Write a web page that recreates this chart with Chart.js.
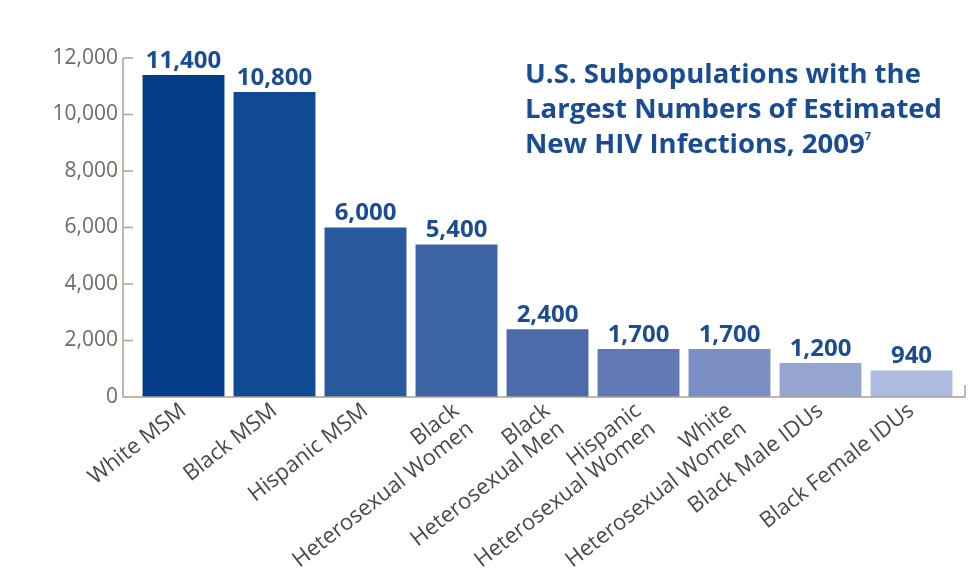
<!DOCTYPE html>
<html>
<head>
<meta charset="utf-8">
<script src="https://cdn.jsdelivr.net/npm/chart.js@4.4.1/dist/chart.umd.min.js"></script>
<style>
  html, body { margin: 0; padding: 0; background: #fff; }
  #wrap { position: relative; width: 974px; height: 577px; }
  #title {
    position: absolute; left: 525px; top: 55px;
    font-family: "Open Sans", "Noto Sans", sans-serif; font-weight: 700;
    font-size: 27.5px; line-height: 35px; color: #1a4c93; white-space: nowrap;
  }
  #title sup { font-size: 11px; vertical-align: 13px; line-height: 0; }
</style>
</head>
<body>
<div id="wrap">
  <canvas id="hivChart" width="974" height="577"></canvas>
  <div id="title">U.S. Subpopulations with the<br>Largest Numbers of Estimated<br>New HIV Infections, 2009<sup>7</sup></div>
</div>
<script>
// Chart data
const categories = [
    'White MSM',
    'Black MSM',
    'Hispanic MSM',
    ['Black', 'Heterosexual Women'],
    ['Black', 'Heterosexual Men'],
    ['Hispanic', 'Heterosexual Women'],
    ['White', 'Heterosexual Women'],
    'Black Male IDUs',
    'Black Female IDUs'
];
const newInfections = [11400, 10800, 6000, 5400, 2400, 1700, 1700, 1200, 940];
const yTicks = [0, 2000, 4000, 6000, 8000, 10000, 12000];

// dark navy fading to light periwinkle, left to right
const barColors = ['#053d8b', '#0f4a93', '#28589e', '#3b63a6', '#4d6aab', '#6179b5', '#7b8ec3', '#95a5d0', '#adbce0'];

const axisColor = '#aaa193';
const fmt = (v) => v.toLocaleString('en-US');

// Draws the offset axis lines, tick marks and the value labels over the bars
const axesAndLabels = {
    id: 'axesAndLabels',
    afterDatasetsDraw(chart) {
        const ctx = chart.ctx;
        const area = chart.chartArea;
        const y = chart.scales.y;
        const axisX = area.left - 15;

        ctx.save();
        ctx.strokeStyle = axisColor;
        ctx.lineWidth = 1.5;
        ctx.beginPath();
        ctx.moveTo(axisX, y.getPixelForValue(12000));
        ctx.lineTo(axisX, area.bottom);
        ctx.lineTo(area.right + 8, area.bottom);
        ctx.lineTo(area.right + 8, area.bottom - 12);
        yTicks.forEach((t) => {
            const py = y.getPixelForValue(t);
            ctx.moveTo(axisX, py);
            ctx.lineTo(axisX + 10, py);
        });
        ctx.stroke();

        // value labels
        ctx.fillStyle = '#1c4d92';
        ctx.font = 'bold 24px "Open Sans", "Noto Sans", sans-serif';
        ctx.textAlign = 'center';
        ctx.textBaseline = 'bottom';
        chart.getDatasetMeta(0).data.forEach((bar, i) => {
            ctx.fillText(fmt(newInfections[i]), bar.x, bar.y - 2);
        });
        ctx.restore();
    }
};

function initializeChart() {
    const ctx = document.getElementById('hivChart').getContext('2d');
    new Chart(ctx, {
        type: 'bar',
        data: {
            labels: categories,
            datasets: [{
                label: 'Estimated New HIV Infections, 2009',
                data: newInfections,
                backgroundColor: barColors,
                borderWidth: 0,
                barPercentage: 0.9,
                categoryPercentage: 1
            }]
        },
        options: {
            responsive: false,
            animation: false,
            layout: {
                padding: { top: 58, right: 17, left: 0, bottom: 0 }
            },
            scales: {
                x: {
                    grid: { display: false, drawTicks: false },
                    border: { display: false },
                    afterFit: (scale) => { scale.height = 180; },
                    ticks: {
                        autoSkip: false,
                        minRotation: 38,
                        maxRotation: 38,
                        padding: 2,
                        color: '#4a4a4a',
                        font: { family: '"Open Sans", "Noto Sans", sans-serif', size: 22, lineHeight: 1.05 }
                    }
                },
                y: {
                    min: 0,
                    max: 12000,
                    grid: { display: false, drawTicks: false },
                    border: { display: false },
                    afterFit: (scale) => { scale.width = 138; },
                    afterBuildTicks: (scale) => {
                        scale.ticks = yTicks.map((v) => ({ value: v }));
                    },
                    ticks: {
                        padding: 20,
                        color: '#6b6b6b',
                        font: { family: '"Open Sans", "Noto Sans", sans-serif', size: 21 },
                        callback: (value) => fmt(value)
                    }
                }
            },
            plugins: {
                legend: { display: false },
                tooltip: { enabled: false }
            }
        },
        plugins: [axesAndLabels]
    });
}

document.addEventListener('DOMContentLoaded', initializeChart);
</script>
</body>
</html>
